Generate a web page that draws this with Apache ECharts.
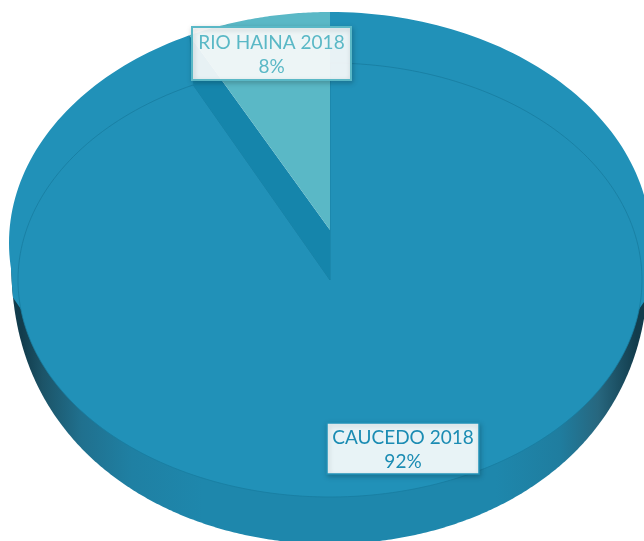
<!DOCTYPE html>
<html>
<head>
<meta charset="utf-8">
<style>html,body{margin:0;padding:0;background:#fff}#chart{width:644px;height:541px}</style>
<script src="https://cdn.jsdelivr.net/npm/echarts@6/dist/echarts.min.js"></script>
</head>
<body>
<div id="chart"></div>
<script>
// Port share by terminal, 2018
const terminals = ['CAUCEDO 2018', 'RIO HAINA 2018'];
const shares = [92, 8];

const FILL = ['#2191b8', '#5ab8c6'];
const INK = ['#1b8cb3', '#5ab8c6'];
const WALL = '#1585ab';
const RIM = '#187c9f';

// Ellipses that make up the tilted disc
const FACE = { cx: 330, cy: 280, rx: 312, ry: 217 };
const BACK = { cx: 330, cy: 243, rx: 321, ry: 231 };
const EDGE = { cx: 330, cy: 252, rx: 319, ry: 292, power: 0.851 };
const SHOULDER_Y = 298; // side wall tapers to a tip just below this line
const SHOULDER_RIM_Y = 309;
const WEDGE_APEX = [330, 230];
const TILT = 0.887; // foreshortening of angles by the tilt

const BOXES = [
  { x: 327, y: 423, w: 152, h: 51, fill: '#e8f3f6', line: 1.5 },
  { x: 192, y: 27, w: 159, h: 53, fill: 'rgba(255,255,255,0.9)', line: 2 }
];

const total = shares.reduce((a, b) => a + b, 0);

function warp(theta) {
  return Math.atan2(TILT * Math.sin(theta), Math.cos(theta));
}
function rimPoint(e, theta) {
  const t = warp(theta);
  return [e.cx + e.rx * Math.sin(t), e.cy - e.ry * Math.cos(t)];
}
// Points along the rim between two clockwise-from-top angles
function arc(e, from, to, steps) {
  const pts = [];
  let a = warp(from), b = warp(to);
  if (a < 0) a += Math.PI * 2;
  if (b <= 0) b += Math.PI * 2;
  for (let i = 0; i <= steps; i++) {
    const t = a + (b - a) * i / steps;
    pts.push([e.cx + e.rx * Math.sin(t), e.cy - e.ry * Math.cos(t)]);
  }
  return pts;
}
// Outer silhouette of the side wall, slightly fuller than an ellipse
function sideOutline() {
  const pts = [];
  for (let k = 0; k <= 360; k++) {
    const t = Math.PI * k / 360;
    pts.push([
      EDGE.cx + EDGE.rx * Math.cos(t),
      EDGE.cy + EDGE.ry * Math.pow(Math.sin(t), EDGE.power)
    ]);
  }
  return pts;
}
// Area where the top surface wraps over the wall on either side
function shoulder(outline) {
  const dy = (SHOULDER_RIM_Y - FACE.cy) / FACE.ry;
  const dx = FACE.rx * Math.sqrt(1 - dy * dy);
  const right = outline.filter(p => p[1] <= SHOULDER_Y && p[0] > EDGE.cx);
  const left = outline.filter(p => p[1] <= SHOULDER_Y && p[0] < EDGE.cx);
  return right.concat(
    [[FACE.cx + dx, SHOULDER_RIM_Y], [FACE.cx - dx, SHOULDER_RIM_Y]],
    left
  );
}
function poly(points, style) {
  return { type: 'polygon', shape: { points }, style };
}
function label(i, name, value) {
  const b = BOXES[i];
  return [
    {
      type: 'rect',
      shape: { x: b.x, y: b.y, width: b.w, height: b.h },
      style: {
        fill: b.fill, stroke: FILL[i], lineWidth: b.line,
        shadowBlur: 5, shadowColor: 'rgba(0,0,0,0.2)', shadowOffsetX: 1, shadowOffsetY: 2
      }
    },
    {
      type: 'text',
      style: {
        text: name + '\n' + value + '%',
        x: b.x + b.w / 2, y: b.y + b.h / 2 + 1,
        align: 'center', verticalAlign: 'middle',
        fontFamily: 'Lato', fontSize: 19, lineHeight: 24, fill: INK[i]
      }
    }
  ];
}

function renderSlice(params, api) {
  const i = params.dataIndex;
  const before = shares.slice(0, i).reduce((a, b) => a + b, 0);
  const from = before / total * Math.PI * 2;
  const to = (before + api.value(0)) / total * Math.PI * 2;
  const name = terminals[i];
  const children = [];

  if (i === 0) {
    const outline = sideOutline();
    // Side wall, darkening towards both ends
    children.push(poly(outline, {
      fill: {
        type: 'linear', x: 0, y: 0, x2: 1, y2: 0,
        colorStops: [
          { offset: 0.017, color: '#123c4c' },
          { offset: 0.05, color: '#1c5468' },
          { offset: 0.11, color: '#20708e' },
          { offset: 0.19, color: '#1f80a3' },
          { offset: 0.3, color: '#1e87ac' },
          { offset: 0.76, color: '#1e87ac' },
          { offset: 0.86, color: '#1f7d9f' },
          { offset: 0.92, color: '#27677f' },
          { offset: 0.98, color: '#123c4c' }
        ]
      }
    }));
    children.push(poly(shoulder(outline), { fill: FILL[0] }));
    // Raised back portion of the disc
    children.push(poly(arc(BACK, from, to, 240).concat([[FACE.cx, FACE.cy]]), { fill: FILL[0] }));
    // Top face with its faint rim line
    children.push(poly(arc(FACE, from, to, 240).concat([[FACE.cx, FACE.cy]]), {
      fill: FILL[0], stroke: RIM, lineWidth: 0.8
    }));
  } else {
    // Cut face between the pulled-out wedge and the disc
    children.push(poly([
      WEDGE_APEX, [FACE.cx, FACE.cy], rimPoint(FACE, from), rimPoint(BACK, from)
    ], { fill: WALL }));
    children.push(poly(arc(BACK, from, to, 60).concat([WEDGE_APEX]), { fill: FILL[1] }));
  }
  return { type: 'group', children: children.concat(label(i, name, api.value(0))) };
}

const chart = echarts.init(document.getElementById('chart'), null, { renderer: 'canvas' });
chart.setOption({
  animation: false,
  backgroundColor: '#ffffff',
  series: [{
    type: 'custom',
    coordinateSystem: 'none',
    renderItem: renderSlice,
    data: shares.map(v => [v])
  }]
});
</script>
</body>
</html>
